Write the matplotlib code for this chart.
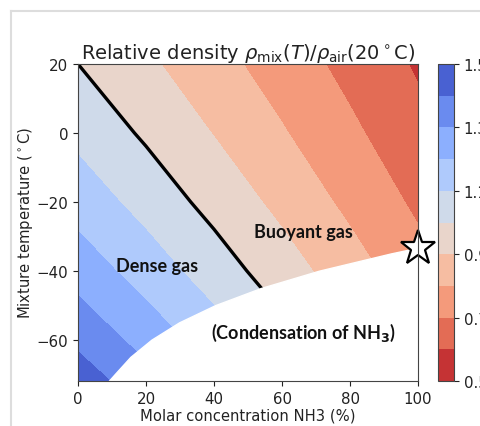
import numpy as np
import matplotlib
matplotlib.use("Agg")
import matplotlib.pyplot as plt
from matplotlib.lines import Line2D

# ---- data ----
conc = [0, 20, 40, 60, 80, 100]            # molar concentration NH3 (%)
temps = [20, 0, -20, -40, -60, -72]        # mixture temperature (deg C)
rel_density = [
    [1.000, 0.918, 0.835, 0.753, 0.670, 0.588],
    [1.073, 0.985, 0.896, 0.808, 0.719, 0.631],
    [1.158, 1.063, 0.967, 0.872, 0.776, 0.681],
    [1.257, 1.154, 1.050, 0.946, 0.843, 0.739],
    [1.375, 1.262, 1.149, 1.035, 0.922, 0.808],
    [1.457, 1.337, 1.217, 1.097, 0.977, 0.857],
]
levels = [0.5, 0.6, 0.7, 0.8, 0.9, 1.0, 1.1, 1.2, 1.3, 1.4, 1.5]
cbar_ticks = [0.5, 0.7, 0.9, 1.1, 1.3, 1.5]

# condensation (saturation) boundary
sat_temp = [-72, -70, -65, -60, -55, -50, -45, -40, -35, -33.3]
sat_conc = [9.0, 10.8, 15.4, 21.6, 29.7, 40.3, 53.8, 70.8, 91.9, 100]

star_point = (100, -33.3)

# ---- figure ----
fig = plt.figure(figsize=(4.8, 4.27), dpi=100)
ax = fig.add_axes([78/480, 1-382/427, 340/480, 317/427])
cax = fig.add_axes([438/480, 1-382/427, 16/480, 317/427])

X, Y = np.meshgrid(conc, temps)
Z = np.array(rel_density)
cf = ax.contourf(X, Y, Z, levels=levels, cmap="coolwarm_r")
ax.contour(X, Y, Z, levels=[1.0], colors="black", linewidths=2.4)
ax.fill_betweenx(sat_temp, sat_conc, 100, color="white", zorder=3)
ax.plot([star_point[0]], [star_point[1]], marker="*", markersize=26,
        markerfacecolor="white", markeredgecolor="black", markeredgewidth=1.6,
        clip_on=False, zorder=10)

ax.set_xlim(0, 100)
ax.set_ylim(-72, 20)
ax.set_xticks([0, 20, 40, 60, 80, 100])
ax.set_yticks([-60, -40, -20, 0, 20])
ax.tick_params(labelsize=10.8, colors="#222222")
for s in ax.spines.values():
    s.set_zorder(11)
    s.set_color("#444444")
ax.set_xlabel("Molar concentration NH3 (%)", fontsize=10.6, color="#222222", labelpad=1)
ax.set_ylabel(r"Mixture temperature ($^\circ$C)", fontsize=10.6, color="#222222", labelpad=1)
ax.set_title(r"Relative density $\rho_{\mathrm{mix}}(T)/\rho_{\mathrm{air}}(20^\circ\mathrm{C})$",
             fontsize=14, color="#222222", pad=3)

tfont = dict(family=["Lato", "DejaVu Sans"], fontweight="bold", color="#111111",
             ha="center", va="center", zorder=12)
ax.text(23.2, -38.6, "Dense gas", fontsize=13, **tfont)
ax.text(66.3, -28.6, "Buoyant gas", fontsize=13, **tfont)
ax.text(66.2, -57.9, r"(Condensation of NH$_{\mathbf{3}}$)", fontsize=13, **tfont)

cb = fig.colorbar(cf, cax=cax, ticks=cbar_ticks)
cb.ax.tick_params(labelsize=10.8, colors="#222222")
cb.outline.set_edgecolor("#444444")

# slide frame lines
fig.add_artist(Line2D([11/480, 1], [1-12/427, 1-12/427], color="#dddddd",
                      linewidth=1.5, transform=fig.transFigure))
fig.add_artist(Line2D([11/480, 11/480], [0, 1-12/427], color="#dddddd",
                      linewidth=1.5, transform=fig.transFigure))

fig.savefig("out.png", dpi=100)
